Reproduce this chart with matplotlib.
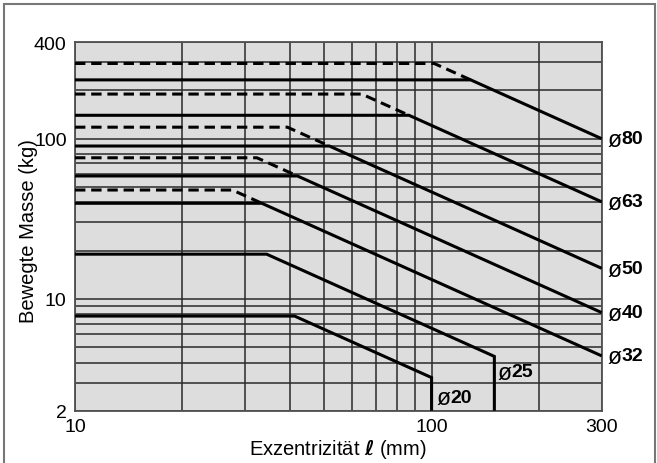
import matplotlib
matplotlib.use("Agg")
import matplotlib.pyplot as plt
from matplotlib.ticker import FixedLocator, FixedFormatter, NullFormatter
from matplotlib.patches import Rectangle

# ---- data -------------------------------------------------------------
bores = ["80", "63", "50", "40", "32", "25", "20"]
mass_solid = [233.0, 140.0, 90.0, 58.5, 39.5, 19.0, 7.8]          # kg, plateau (solid)
mass_dashed = [295.0, 190.0, 118.0, 76.0, 47.8, None, None]       # kg, plateau (dashed)
moment = [30000.0, 12100.0, 4650.0, 2460.0, 1320.0, 655.0, 322.0]  # kg*mm (mass * eccentricity)
ecc_limit = [300.0, 300.0, 300.0, 300.0, 300.0, 150.0, 100.0]     # mm

x_ticks = [10, 100, 300]
x_ticklabels = ["10", "100", "300"]
y_ticks = [2, 10, 100, 400]
y_ticklabels = ["2", "10", "100", "400"]
x_grid = [20, 30, 40, 50, 60, 70, 80, 90, 200]
y_grid = [3, 4, 5, 6, 7, 8, 9, 20, 30, 40, 50, 60, 70, 80, 90, 200, 300]

x_label = r"Exzentrizität $\boldsymbol{\ell}$ (mm)"
y_label = "Bewegte Masse (kg)"
diam = "ø"

# ---- style ------------------------------------------------------------
plt.rcParams["font.family"] = ["Liberation Sans", "DejaVu Sans"]
plt.rcParams["mathtext.fontset"] = "dejavusans"
FS = 14
FS_LAB = 14.5
LW = 2.2
DASH = (3.4, 1.9)

fig = plt.figure(figsize=(6.57, 4.64), dpi=100)
W, H = 657, 464
ax = fig.add_axes([75 / W, 1 - 411.7 / H, (601.7 - 75) / W, (411.7 - 43.3) / H])
ax.set_facecolor("#dddddd")
ax.set_xscale("log")
ax.set_yscale("log")
ax.set_xlim(x_ticks[0], x_ticks[-1])
ax.set_ylim(y_ticks[0], y_ticks[-1])

ax.xaxis.set_major_locator(FixedLocator(x_ticks))
ax.xaxis.set_major_formatter(FixedFormatter(x_ticklabels))
ax.xaxis.set_minor_locator(FixedLocator(x_grid))
ax.xaxis.set_minor_formatter(NullFormatter())
ax.yaxis.set_major_locator(FixedLocator(y_ticks))
ax.yaxis.set_major_formatter(FixedFormatter(y_ticklabels))
ax.yaxis.set_minor_locator(FixedLocator(y_grid))
ax.yaxis.set_minor_formatter(NullFormatter())

ax.tick_params(which="both", length=0, labelsize=FS)
ax.tick_params(axis="x", pad=5)
ax.tick_params(axis="y", pad=6)
ax.grid(True, which="both", color="#2a2a2a", linewidth=1.1)
ax.set_axisbelow(True)
for s in ax.spines.values():
    s.set_color("#505050")
    s.set_linewidth(1.3)

y_bottom = y_ticks[0]

for b, ms, md, k, lim in zip(bores, mass_solid, mass_dashed, moment, ecc_limit):
    knee = k / ms
    xs = [x_ticks[0], knee, lim]
    ys = [ms, ms, k / lim]
    if lim < x_ticks[-1]:
        xs.append(lim)
        ys.append(y_bottom)
    ax.plot(xs, ys, color="black", lw=LW, solid_joinstyle="miter",
            solid_capstyle="butt", zorder=3)
    if md is not None:
        kd = k / md
        ax.plot([x_ticks[0], kd, knee], [md, md, ms], color="black", lw=LW,
                dashes=DASH, dash_capstyle="butt", zorder=3)
    # labels
    pos = (lim, k / lim)
    if lim >= x_ticks[-1]:
        ox, oy = 4.3, 0
    elif b == "25":
        ox, oy = 2.4, -10.8
    else:
        ox, oy = 3.4, -14.0
    ax.annotate(diam, xy=pos, xytext=(ox, oy - 0.6), textcoords="offset points",
                ha="left", va="center", fontsize=FS * 1.18, color="black",
                annotation_clip=False)
    ax.annotate(b, xy=pos, xytext=(ox + 9.8, oy), textcoords="offset points",
                ha="left", va="center", fontsize=FS, fontweight="bold",
                color="black", annotation_clip=False)

ax.set_xlabel(x_label, fontsize=FS_LAB)
ax.set_ylabel(y_label, fontsize=FS_LAB)
ax.xaxis.set_label_coords(0.5, -0.072)
ax.yaxis.set_label_coords(-0.071, 0.489)

# outer frame of the figure panel
fig.patches.append(Rectangle((4 / W, -0.05), (655 - 4) / W, 1 - 5 / H + 0.05,
                             transform=fig.transFigure, fill=False,
                             edgecolor="#777777", linewidth=1.5))

fig.savefig("out.png", dpi=100)
